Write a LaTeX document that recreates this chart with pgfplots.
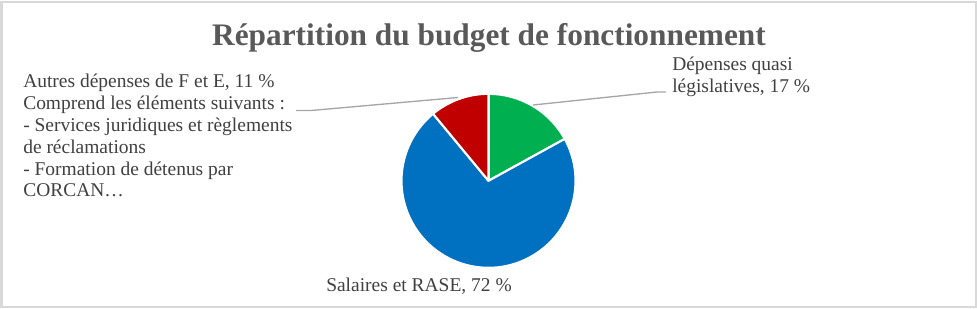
\documentclass[border=0pt]{standalone}
\usepackage{pgfplots}
\pgfplotsset{compat=1.18}
\usepackage{pgfplotstable}
\usepackage{fontspec}
\setmainfont{Liberation Serif}
\definecolor{pgreen}{HTML}{00B050}
\definecolor{pblue}{HTML}{0070C0}
\definecolor{pred}{HTML}{C00000}
\definecolor{txt}{HTML}{404040}
\definecolor{ttl}{HTML}{595959}
\definecolor{framec}{HTML}{D9D9D9}
\definecolor{lead}{HTML}{A6A6A6}

\pgfplotstableread{
value
17
72
11
}\piedata

\begin{document}
\begin{tikzpicture}
\pgfplotstablegetelem{0}{value}\of\piedata \let\va\pgfplotsretval
\pgfplotstablegetelem{1}{value}\of\piedata \let\vb\pgfplotsretval
\pgfplotstablegetelem{2}{value}\of\piedata \let\vc\pgfplotsretval
\pgfmathsetmacro{\aA}{90}
\pgfmathsetmacro{\aB}{90-3.6*\va}
\pgfmathsetmacro{\aC}{\aB-3.6*\vb}
\pgfmathsetmacro{\aD}{\aC-3.6*\vc}
\def\cx{488.5}\def\cy{180.8}\def\r{87}
\begin{axis}[
  width=732.75pt, height=231pt, scale only axis,
  xmin=0, xmax=977, ymin=0, ymax=308, y dir=reverse,
  axis lines=none, clip=false,
]
\path (axis cs:0,0) (axis cs:977,308);
\draw[framec, line width=1.5pt] (axis cs:1.5,1.5) rectangle (axis cs:975.5,306.5);
% wedges
\filldraw[fill=pgreen, draw=white, line width=1.6pt, line join=round]
  (axis cs:\cx,\cy) -- (axis cs:{\cx+\r*cos(\aA)},{\cy-\r*sin(\aA)})
  arc[start angle=\aA, end angle=\aB, radius=65.25pt] -- cycle;
\filldraw[fill=pblue, draw=white, line width=1.6pt, line join=round]
  (axis cs:\cx,\cy) -- (axis cs:{\cx+\r*cos(\aB)},{\cy-\r*sin(\aB)})
  arc[start angle=\aB, end angle=\aC, radius=65.25pt] -- cycle;
\filldraw[fill=pred, draw=white, line width=1.6pt, line join=round]
  (axis cs:\cx,\cy) -- (axis cs:{\cx+\r*cos(\aC)},{\cy-\r*sin(\aC)})
  arc[start angle=\aC, end angle=\aD, radius=65.25pt] -- cycle;
% leader lines
\draw[lead, line width=1pt] (axis cs:533,105) -- (axis cs:657,92) -- (axis cs:666,92);
\draw[lead, line width=1pt] (axis cs:458,97.5) -- (axis cs:311,110.5) -- (axis cs:296,110.5);
% title
\node[anchor=base, inner sep=0, text=ttl, font=\fontsize{23.5}{28}\selectfont\bfseries] at (axis cs:489,45) {Répartition du budget de fonctionnement};
% labels
\tikzset{lab/.style={anchor=base west, inner sep=0, text=txt, font=\fontsize{14.6}{17}\selectfont}}
\node[lab] at (axis cs:672,70) {Dépenses quasi};
\node[lab] at (axis cs:672,92) {législatives, 17~\%};
\node[lab] at (axis cs:23,87) {Autres dépenses de F et E, 11~\%};
\node[lab] at (axis cs:23,109) {Comprend les éléments suivants :};
\node[lab] at (axis cs:23,131) {- Services juridiques et règlements};
\node[lab] at (axis cs:23,153) {de réclamations};
\node[lab] at (axis cs:23,175) {- Formation de détenus par};
\node[lab] at (axis cs:23,196.5) {CORCAN…};
\node[lab] at (axis cs:326,291.7) {Salaires et RASE, 72~\%};
\end{axis}
\end{tikzpicture}
\end{document}
